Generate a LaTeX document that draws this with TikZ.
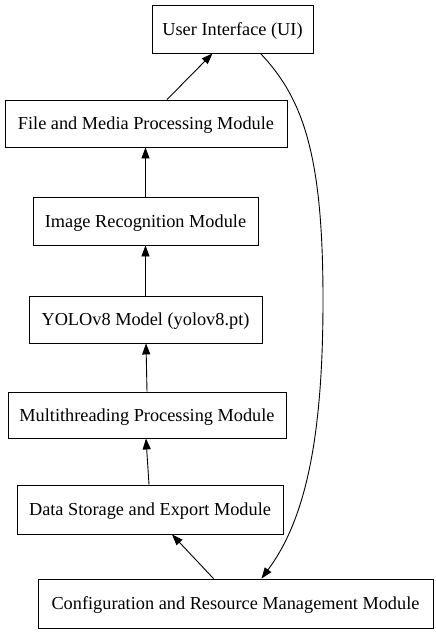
\documentclass[tikz,border=0pt]{standalone}
\usepackage{fontspec}
\setmainfont{Liberation Serif}
\usepackage{tikz}
\usetikzlibrary{arrows.meta,positioning}

\begin{document}
\begin{tikzpicture}[
        x=1pt, y=-1pt,
        module/.style={
                draw=black,
                line width=0.9pt,
                anchor=center,
                text centered,
                inner sep=0pt,
                text height=12pt,
                text depth=0pt,
                minimum height=48pt,
                font=\fontsize{18.3}{20}\selectfont
            },
        flow/.style={
                line width=0.9pt,
                -{Triangle[length=11pt,width=8pt]}
            },
    ]
    \useasboundingbox (0,0) rectangle (436,635);
    % Modules
    \node[module, minimum width=161pt] (ui) at (232.5,29) {User Interface (UI)};
    \node[module, minimum width=282pt, minimum height=47pt] (filemod) at (146,123.5) {File and Media Processing Module};
    \node[module, minimum width=225pt] (imgrec) at (145.5,221) {Image Recognition Module};
    \node[module, minimum width=233pt, minimum height=47pt] (yolo) at (145.5,319.5) {YOLOv8 Model (yolov8.pt)};
    \node[module, minimum width=278pt, minimum height=46pt] (multi) at (147,415) {Multithreading Processing Module};
    \node[module, minimum width=266pt, minimum height=49pt] (datastore) at (150,509.5) {Data Storage and Export Module};
    \node[module, minimum width=395pt, minimum height=49pt] (config) at (235.5,603.5) {Configuration and Resource Management Module};
    % Edges
    \draw[flow] ([xshift=21pt]filemod.north) -- ([xshift=-20pt]ui.south);
    \draw[flow] (imgrec.north) -- (imgrec.north |- filemod.south);
    \draw[flow] (yolo.north) -- (yolo.north |- imgrec.south);
    \draw[flow] (multi.north) -- ([xshift=0.5pt]yolo.south);
    \draw[flow] ([xshift=-1pt]datastore.north) -- ([xshift=-1pt]multi.south);
    \draw[flow] ([xshift=-22pt]config.north) -- ([xshift=22pt]datastore.south);
    \draw[flow] ([xshift=-53pt]ui.south east) .. controls (305,100) and (323,160) .. (323,300)
        .. controls (323,440) and (305,520) .. ([xshift=26pt]config.north);
\end{tikzpicture}
\end{document}
